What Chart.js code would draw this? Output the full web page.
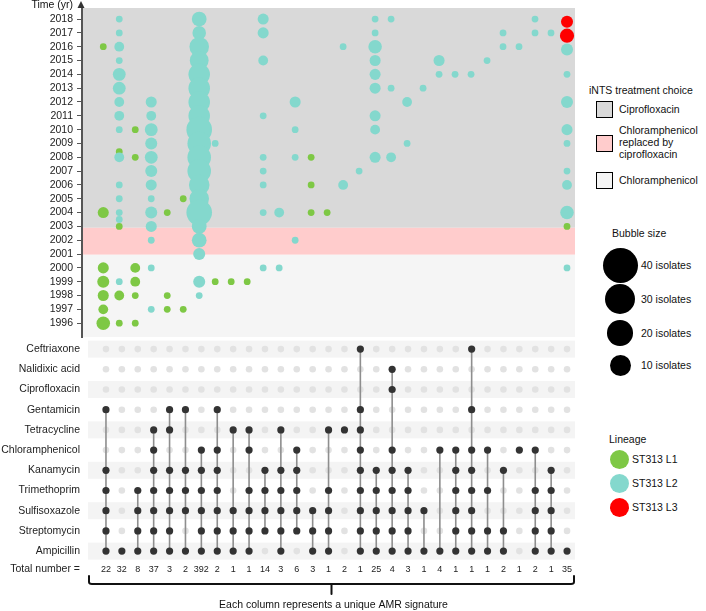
<!DOCTYPE html>
<html><head><meta charset="utf-8">
<script src="https://cdn.jsdelivr.net/npm/chart.js@4.4.1/dist/chart.umd.min.js"></script>
<style>
html,body{margin:0;padding:0;background:#fff;}
#wrap{position:relative;width:706px;height:611px;font-family:"Liberation Sans",Arial,sans-serif;color:#111;overflow:hidden;}
#top{position:absolute;left:0;top:0;}
#bot{position:absolute;left:0;top:338px;}
.t{position:absolute;font-size:10.5px;line-height:12px;white-space:nowrap;}
.box{position:absolute;width:15px;height:15px;border:1.5px solid #000;}
.dot{position:absolute;border-radius:50%;}
</style></head>
<body>
<div id="wrap">
<canvas id="top" width="580" height="340"></canvas>
<canvas id="bot" width="580" height="273"></canvas>
<div id="legend"></div>
</div>
<script>
// ---------- DATA ----------
const yearTicks = [2018,2017,2016,2015,2014,2013,2012,2011,2010,2009,2008,2007,2006,2005,2004,2003,2002,2001,2000,1999,1998,1997,1996];
const treatmentNames = ["Ciprofloxacin","Chloramphenicol replaced by ciprofloxacin","Chloramphenicol"];
const treatmentFrom = [2002.9, 2000.95, 1995];
const treatmentTo   = [2018.8, 2002.9, 2000.95];
const lineageNames = ["ST313 L1","ST313 L2","ST313 L3"];
// [column, year, isolates]
const bubblesL1 = [
 [0,2016,1],[0,2004,3],[0,2000,3],[0,1999,4],[0,1998,3],[0,1997,2],[0,1996,6],
 [1,2008.4,1],[1,2003,1],[1,1998,2],[1,1996,1],
 [2,2010,1],[2,2008,1],[2,2000,2],[2,1999,2],[2,1998,1],[2,1996,1],
 [4,2004,1],[4,1998,1],[4,1997,1],
 [5,2005,1],[5,1997,1],
 [7,1999,1],[8,1999,1],[9,1999,1],
 [13,2008,1],[13,2006,1],[13,2004,1],
 [14,2004,1],
 [29,2003,1]
];
const bubblesL2 = [
 [1,2018,1],[1,2017,1],[1,2016,2],[1,2015,1],[1,2014,5],[1,2013,5],[1,2012,2],[1,2011,2],[1,2010,1],[1,2008,2],[1,2006,1],[1,2005,1],[1,2004,1],[1,2003.5,1],[1,1999,1],
 [3,2012,3],[3,2011,2],[3,2010,5],[3,2009,4],[3,2008,5],[3,2007,4],[3,2006,3],[3,2005,1],[3,2004,4],[3,2003,3],[3,2002,1],[3,2000,1],[3,1997,1],
 [6,2018,8],[6,2017,6],[6,2016,19],[6,2015,17],[6,2014,25],[6,2013,25],[6,2012,25],[6,2011,25],[6,2010,40],[6,2009,32],[6,2008,32],[6,2007,32],[6,2006,22],[6,2005,19],[6,2004,40],[6,2003,8],[6,2002,8],[6,2001,4],[6,1999,4],[6,1998,1],
 [7,2009,1],
 [10,2018,3],[10,2017,3],[10,2015,2],[10,2011,1],[10,2008,1],[10,2007,1],[10,2006,1],[10,2004,1],[10,2000,1],
 [11,2004,2],[11,2000,1],
 [12,2012,3],[12,2010,1],[12,2008,1],[12,2002,1],
 [15,2016,1],[15,2006,2],
 [16,2007,1],
 [17,2018,1],[17,2017,1],[17,2016,6],[17,2015,3],[17,2014,3],[17,2013,3],[17,2011,3],[17,2010,2],[17,2008,3],
 [18,2018,1],[18,2013,1],[18,2008,2],
 [19,2012,2],[19,2009,1],
 [20,2013,1],
 [21,2015,3],[21,2014,1],
 [22,2014,1],[23,2014,1],[24,2015,1],
 [25,2017,1],[25,2016,1],
 [26,2016,1],
 [27,2018,1],[27,2017,1],
 [28,2017,1],
 [29,2015.8,4],[29,2014,1],[29,2012,4],[29,2010,3],[29,2009,1],[29,2007,1],[29,2006,2],[29,2004,6],[29,2000,1]
];
const bubblesL3 = [[29,2017.8,4],[29,2016.8,7]];
const bubbleLegendSizes = [40,30,20,10];

const drugCodes = ["CRO","NAL","CIP","GEN","TET","CHL","KAN","TMP","SUL","STR","AMP"];
const drugNames = ["Ceftriaxone","Nalidixic acid","Ciprofloxacin","Gentamicin","Tetracycline","Chloramphenicol","Kanamycin","Trimethoprim","Sulfisoxazole","Streptomycin","Ampicillin"];
const totals = [22,32,8,37,3,2,392,2,1,1,14,3,6,3,1,2,1,25,4,3,1,4,1,1,1,2,1,2,1,35];
const signatures = [
 "GEN KAN TMP SUL STR AMP","AMP","TMP SUL STR AMP","TET CHL KAN TMP SUL STR AMP","GEN TET KAN TMP SUL STR AMP",
 "GEN KAN TMP SUL AMP","CHL KAN TMP SUL STR AMP","GEN CHL KAN TMP SUL STR AMP","TET SUL STR AMP","TET CHL TMP SUL STR AMP",
 "KAN TMP SUL STR","TET KAN TMP SUL STR AMP","CHL KAN TMP SUL STR","SUL STR AMP","TET TMP SUL STR AMP",
 "TET","CRO GEN TET CHL KAN TMP SUL STR AMP","KAN TMP SUL STR AMP","NAL CIP CHL KAN TMP SUL STR AMP","KAN TMP SUL STR AMP",
 "SUL AMP","CHL AMP","CHL KAN TMP SUL STR AMP","CRO GEN CHL KAN TMP SUL STR AMP","CHL TMP STR AMP",
 "KAN STR AMP","CHL","CHL TMP SUL STR AMP","KAN TMP SUL STR AMP","AMP"
];
const totalLabel = "Total number =";
const caption = "Each column represents a unique AMR signature";

// ---------- STYLE ----------
const FONT = '"Liberation Sans", Arial, sans-serif';
const lineageColors = ["#7ec845","#84d8cd","#ff0000"];
const treatmentColors = ["#d9d9d9","#ffcccc","#f5f5f5"];
const rad = n => 3.4 + 9.4*Math.sqrt((n-1)/39);
const toPts = arr => arr.map(([c,y,n]) => ({x:c, y:y, r:rad(n)}));
const noPad = s => { s.paddingTop = 0; s.paddingBottom = 0; };

// ---------- TOP BUBBLE CHART ----------
const bgPlugin = {
  id:'bg',
  beforeDraw(chart){
    const {ctx, chartArea:a, scales:{y}} = chart;
    ctx.save();
    treatmentNames.forEach((nm,i)=>{
      const y1 = y.getPixelForValue(treatmentTo[i]), y2 = y.getPixelForValue(treatmentFrom[i]);
      ctx.fillStyle = treatmentColors[i];
      ctx.fillRect(a.left, y1, a.right-a.left, y2-y1);
    });
    ctx.restore();
  },
  afterDraw(chart){
    const {ctx, chartArea:a} = chart;
    ctx.save();
    ctx.fillStyle = '#333';
    ctx.beginPath();
    ctx.moveTo(a.left-1, 1); ctx.lineTo(a.left-4.5, 8); ctx.lineTo(a.left+2.5, 8); ctx.closePath(); ctx.fill();
    ctx.fillStyle = '#111';
    ctx.font = '10.5px '+FONT;
    ctx.textAlign = 'right'; ctx.textBaseline = 'middle';
    ctx.fillText('Time (yr)', 73, 5);
    ctx.restore();
  }
};

new Chart(document.getElementById('top'), {
  type:'bubble',
  data:{datasets:[
    {label:lineageNames[1], data:toPts(bubblesL2), backgroundColor:lineageColors[1], borderWidth:0, order:0},
    {label:lineageNames[0], data:toPts(bubblesL1), backgroundColor:lineageColors[0], borderWidth:0, order:1},
    {label:lineageNames[2], data:toPts(bubblesL3), backgroundColor:lineageColors[2], borderWidth:0, order:2}
  ]},
  options:{
    responsive:false, animation:false, events:[],
    layout:{autoPadding:false, padding:{top:8,bottom:3,right:5,left:0}},
    plugins:{legend:{display:false},tooltip:{enabled:false}},
    clip:false,
    scales:{
      x:{type:'linear', min:-1.33, max:29.5, display:false},
      y:{type:'linear', min:1995, max:2018.8,
        afterFit(s){ s.width = 82; noPad(s); },
        afterBuildTicks(s){ s.ticks = yearTicks.map(v=>({value:v})); },
        ticks:{autoSkip:false, padding:4, color:'#222', font:{size:10.5, family:FONT}, callback:v=>String(v)},
        grid:{drawOnChartArea:false, tickLength:5, color:'#555', lineWidth:1},
        border:{display:true, color:'#555', width:2}
      }
    }
  },
  plugins:[bgPlugin]
});

// ---------- BOTTOM MATRIX CHART ----------
const totalRow = 10.9;
const rowLabels = drugNames.concat([totalLabel]);
const rowValues = drugNames.map((d,i)=>i).concat([totalRow]);
const emptyPts = [], filledPts = [], lineSets = [];
signatures.forEach((sig,c)=>{
  const rows = sig.split(' ').map(code=>drugCodes.indexOf(code));
  drugCodes.forEach((d,r)=>{ if(!rows.includes(r)) emptyPts.push({x:c,y:r}); });
  rows.forEach(r=>filledPts.push({x:c,y:r}));
  if(rows.length>1){
    lineSets.push({type:'scatter', data:[{x:c,y:Math.min(...rows)},{x:c,y:Math.max(...rows)}], showLine:true, borderColor:'#8e8e8e', borderWidth:1.6, pointRadius:0, order:1});
  }
});

const matrixPlugin = {
  id:'matrix',
  beforeDraw(chart){
    const {ctx, chartArea:a, scales:{y}} = chart;
    ctx.save();
    ctx.fillStyle = '#f4f4f4';
    drugNames.forEach((d,i)=>{
      if(i%2===0){ const p=y.getPixelForValue(i); ctx.fillRect(a.left, p-8.5, a.right-a.left, 17); }
    });
    ctx.restore();
  },
  afterDraw(chart){
    const {ctx, chartArea:a, scales:{x,y}} = chart;
    ctx.save();
    ctx.fillStyle = '#222';
    ctx.font = '9px '+FONT; ctx.textAlign='center'; ctx.textBaseline='middle';
    const ty = y.getPixelForValue(totalRow);
    totals.forEach((t,i)=>ctx.fillText(String(t), x.getPixelForValue(i), ty));
    // bracket
    const L = a.left+1, R = a.right-1, by = 246, mid = (L+R)/2;
    ctx.strokeStyle = '#111'; ctx.lineWidth = 2; ctx.lineJoin='round'; ctx.lineCap='round';
    ctx.beginPath();
    ctx.moveTo(L, 238); ctx.lineTo(L, by-2); ctx.quadraticCurveTo(L, by, L+3, by);
    ctx.lineTo(R-3, by); ctx.quadraticCurveTo(R, by, R, by-2); ctx.lineTo(R, 238);
    ctx.moveTo(mid, by); ctx.lineTo(mid, 256);
    ctx.stroke();
    ctx.fillStyle = '#111';
    ctx.font = '10.5px '+FONT;
    ctx.fillText(caption, mid+2, 267);
    ctx.restore();
  }
};

new Chart(document.getElementById('bot'), {
  type:'scatter',
  data:{datasets:[
    {data:filledPts, backgroundColor:'#333', borderWidth:0, pointRadius:3.6, order:0},
    ...lineSets,
    {data:emptyPts, backgroundColor:'#e2e2e2', borderWidth:0, pointRadius:3.3, order:2}
  ]},
  options:{
    responsive:false, animation:false, events:[],
    layout:{autoPadding:false, padding:{top:1,bottom:29.6,right:5,left:0}},
    plugins:{legend:{display:false},tooltip:{enabled:false}},
    clip:false,
    scales:{
      x:{type:'linear', min:-1.13, max:29.5, display:false},
      y:{type:'linear', reverse:true, min:-0.5, max:11.5,
        afterFit(s){ s.width = 88; noPad(s); },
        afterBuildTicks(s){ s.ticks = rowValues.map(v=>({value:v})); },
        ticks:{autoSkip:false, padding:8, color:'#222', font:{size:10.5, family:FONT}, callback:(v,i)=>rowLabels[i]},
        grid:{display:false, drawTicks:false},
        border:{display:false}
      }
    }
  },
  plugins:[matrixPlugin]
});

// ---------- LEGENDS (HTML) ----------
const lg = document.getElementById('legend');
let h = '';
h += `<div class="t" style="left:589px;top:84px">iNTS treatment choice</div>`;
const tBoxTop = [101,135,172];
const tTextTop = [[103],[124,136,148],[174]];
const tLines = [["Ciprofloxacin"],["Chloramphenicol","replaced by","ciprofloxacin"],["Chloramphenicol"]];
treatmentNames.forEach((n,i)=>{
  h += `<div class="box" style="left:596px;top:${tBoxTop[i]}px;background:${treatmentColors[i]}"></div>`;
  tLines[i].forEach((ln,j)=>{ h += `<div class="t" style="left:619px;top:${tTextTop[i][j]}px">${ln}</div>`; });
});
h += `<div class="t" style="left:612px;top:227px">Bubble size</div>`;
const bsR = [17.5,15.3,12.8,10.5], bsY = [265,299,333,365];
bubbleLegendSizes.forEach((s,i)=>{
  h += `<div class="dot" style="background:#000;left:${620-bsR[i]}px;top:${bsY[i]-bsR[i]}px;width:${2*bsR[i]}px;height:${2*bsR[i]}px"></div>`;
  h += `<div class="t" style="left:641px;top:${bsY[i]-6}px">${s} isolates</div>`;
});
h += `<div class="t" style="left:609px;top:433px">Lineage</div>`;
const lnY = [459,483,507];
lineageNames.forEach((n,i)=>{
  h += `<div class="dot" style="background:${lineageColors[i]};left:609.5px;top:${lnY[i]-9.5}px;width:19px;height:19px"></div>`;
  h += `<div class="t" style="left:632px;top:${lnY[i]-6}px">${n}</div>`;
});
lg.innerHTML = h;
</script>
</body></html>
